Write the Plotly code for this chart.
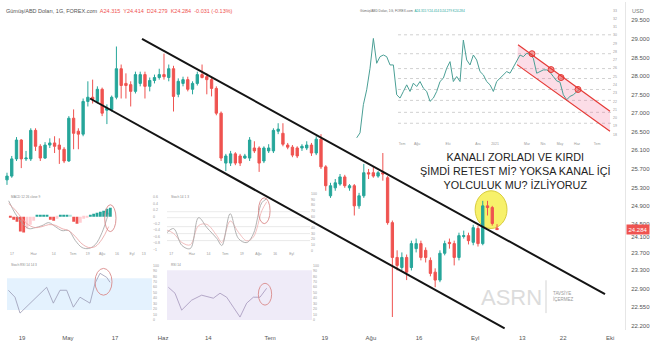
import plotly.graph_objects as go

# ---------------- main chart data (daily candles, bar index) ----------------
OPEN = [25.47,25.56,25.97,26.42,25.97,25.97,26.65,26.27,25.99,26.30,26.35,26.30,26.20,25.92,26.94,26.63,26.56,27.34,27.44,27.34,
        27.63,27.13,27.15,27.44,28.12,27.77,27.74,27.58,27.77,27.98,27.70,27.84,27.91,27.98,27.91,28.12,27.51,27.77,27.86,27.63,
        27.77,27.98,27.93,27.86,27.65,27.06,25.87,25.87,26.09,26.04,25.99,25.99,26.23,26.23,25.92,26.16,26.16,26.63,26.58,26.30,
        26.25,26.23,26.23,26.23,26.30,26.11,26.44,25.78,25.09,25.28,25.37,25.54,25.28,25.33,24.85,25.09,25.64,25.64,25.56,25.64,
        25.52,24.45,23.62,23.38,23.62,23.38,23.83,23.95,23.79,23.55,23.27,23.08,23.72,23.98,23.95,23.62,24.12,24.14,23.98,24.31,
        23.95,24.85,24.81,24.315]
HIGH = [25.64,26.04,26.49,26.44,26.16,26.70,26.70,26.32,26.37,26.46,26.51,26.46,26.25,26.99,27.15,26.70,27.41,27.82,27.86,27.70,
        27.67,27.27,27.48,28.65,28.22,28.01,27.82,28.05,28.05,28.05,27.91,27.98,28.12,28.48,28.22,28.19,27.89,27.93,27.93,27.82,
        28.05,28.22,28.01,27.93,27.70,27.10,26.09,26.16,26.13,26.09,26.09,26.49,26.39,26.27,26.27,26.32,26.70,26.82,26.82,26.35,
        26.30,26.27,26.32,26.39,26.35,26.51,26.56,25.82,25.40,25.49,25.61,25.59,25.37,25.37,25.16,25.85,25.73,25.80,25.68,26.11,
        25.56,24.50,23.79,23.74,23.69,24.02,24.07,24.02,23.86,23.62,23.36,23.79,24.02,24.07,24.02,24.21,24.26,24.21,24.40,24.38,
        24.97,24.97,24.85,24.414]
LOW = [25.35,25.52,25.92,25.75,25.92,25.92,26.16,25.92,25.97,26.23,26.11,25.85,25.87,25.90,26.20,26.20,26.51,27.22,27.29,27.29,
       26.99,26.80,27.10,27.39,27.41,27.41,27.22,27.53,27.70,27.41,27.58,27.77,27.86,27.86,27.82,27.10,27.44,27.70,27.58,27.51,
       27.72,27.89,27.51,27.46,27.01,25.92,25.68,25.80,25.82,25.80,25.97,25.92,26.11,25.66,25.87,26.11,26.11,26.56,26.27,26.20,
       26.01,25.99,26.16,26.18,26.04,26.06,25.73,25.21,25.04,25.21,25.33,25.28,25.21,24.62,24.78,25.04,25.49,25.52,25.52,25.45,
       24.40,22.20,23.31,23.31,23.08,23.31,23.74,23.55,23.50,23.17,22.91,23.03,23.67,23.83,23.43,23.55,24.07,23.93,23.91,23.88,
       23.91,24.62,24.38,24.279]
CLOSE = [25.56,25.97,26.42,25.97,25.99,26.65,26.27,25.99,26.30,26.35,26.27,26.20,25.92,26.94,26.58,26.56,27.34,27.44,27.39,27.63,
         27.06,27.18,27.44,28.12,27.72,27.72,27.58,27.98,27.98,27.70,27.84,27.91,27.98,27.93,28.12,27.46,27.82,27.86,27.63,27.77,
         27.98,27.91,27.86,27.65,27.06,25.99,26.04,26.09,25.87,25.87,26.04,26.42,26.16,25.87,26.23,26.23,26.65,26.68,26.32,26.25,
         26.06,26.04,26.27,26.30,26.11,26.44,25.78,25.33,25.33,25.40,25.54,25.33,25.33,24.85,25.09,25.64,25.61,25.56,25.64,25.61,
         24.45,23.62,23.43,23.62,23.27,23.95,23.95,23.62,23.62,23.24,23.08,23.72,23.95,23.95,23.62,24.14,24.14,24.02,24.33,23.95,
         24.85,24.81,24.43,24.284]
BAR_INDEX = list(range(len(CLOSE)))
LAST_PRICE = 24.284

X_TICK_POS = [3.15, 12.8, 22.7, 32.8, 42.3, 55.3, 66.8, 76.5, 86.6, 98.4, 108.3, 116.9, 126.8]
X_TICK_TEXT = ["19", "May", "17", "Haz", "14", "Tem", "19", "Ağu", "16", "Eyl", "13", "22", "Eki"]
Y_TICK_POS = [29.284, 28.834, 28.384, 27.957, 27.507, 27.057, 26.606, 26.180, 25.729, 25.279,
              24.852, 24.426, 24.118, 23.739, 23.312, 22.862, 22.435, 21.985]
Y_TICK_TEXT = ["29.500", "29.000", "28.500", "28.000", "27.500", "27.000", "26.500", "26.100", "25.700", "25.300",
               "24.900", "24.500", "24.100", "23.700", "23.300", "22.900", "22.550", "22.200"]

# channel (trend lines) drawn on the main chart: [start, end] in bar index / price
CHANNEL_UPPER_X = [28.38, 125.7]
CHANNEL_UPPER_Y = [28.834, 22.743]
CHANNEL_LOWER_X = [17.45, 104.6]
CHANNEL_LOWER_Y = [27.41, 21.93]
HIGHLIGHT_X = [98.4, 105.1]
HIGHLIGHT_Y = [24.31, 25.21]

# ---------------- top-right inset (longer history) ----------------
INSET_PRICE = [17.60, 18.20, 21.60, 23.40, 26.00, 29.60, 26.60, 27.40, 27.60, 27.40,
               26.40, 26.40, 22.80, 22.40, 23.20, 24.00, 23.20, 24.20, 23.80, 24.40,
               23.60, 23.20, 22.00, 22.40, 23.20, 24.40, 24.80, 26.00, 26.80, 24.40,
               25.00, 24.40, 29.40, 27.00, 26.40, 27.60, 27.00, 25.60, 25.20, 24.40,
               24.00, 23.20, 24.40, 24.80, 25.20, 25.60, 25.40, 26.20, 27.00, 27.60,
               27.40, 27.80, 27.68, 27.20, 25.40, 25.60, 25.80, 25.80, 25.52, 25.00,
               24.48, 24.32, 22.80, 22.20, 22.60, 22.80, 23.20, 23.52]
INSET_LEVELS = [30.04, 27.76, 25.96, 24.76, 23.44, 22.12, 20.68, 19.36]
INSET_CH_UP_X = [48.4, 76.0]
INSET_CH_UP_Y = [28.84, 20.80]
INSET_CH_LO_X = [48.1, 76.0]
INSET_CH_LO_Y = [26.44, 18.40]
INSET_TOUCH_X = [52.6, 58.3, 61.3, 66.4]
INSET_TOUCH_Y = [27.76, 25.84, 24.88, 23.44]
INSET_XTICK_POS = [13.6, 18.1, 27.4, 36.4, 41.5, 51.1, 55.9, 61.0, 66.1, 72.1]
INSET_XTICK_TEXT = ["Tem", "Ağu", "Eki", "Ara", "2021", "Mar", "Nis", "May", "Haz", "Tem"]

# ---------------- indicator panels ----------------
MACD_HIST = [-0.03, -0.09, -0.15, -0.45, -0.48, -0.36, -0.24, -0.12, 0.03, 0.03, 0.06, 0.06,
             -0.09, -0.12, -0.06, 0.03, 0.06, 0.06, 0.03, -0.15, -0.21, -0.18, -0.06, -0.03,
             0.06, 0.09, 0.12, 0.15, 0.18, 0.24, 0.27]
MACD_X = [-0.5, 1.5, 3.5, 5.5, 7.5, 9.5, 11.5, 13.5, 15.5, 17.5, 19.5, 21.5, 23.5, 25.5, 27.5, 29.5]
MACD_LINE = [0.48, 0.09, -0.18, -0.36, -0.33, -0.27, -0.18, -0.30, -0.42, -0.42, -0.72, -0.93, -0.96, -0.84, -0.48, 0.12]
MACD_SIGNAL = [0.40, 0.20, -0.05, -0.25, -0.33, -0.30, -0.24, -0.26, -0.36, -0.42, -0.60, -0.82, -0.93, -0.90, -0.68, -0.30]

STOCH_X = [0, 0.8, 1.8, 2.8, 3.8, 4.8, 6.0, 6.6, 7.6, 8.6, 9.6, 10.4, 11.4, 12.0]
STOCH_K = [31.6, 38.6, 8.8, 3.5, 57.9, 40.3, 21.0, 8.8, 64.9, 21.0, 14.0, 29.8, 84.2, 91.2]
STOCH_D = [36.0, 30.0, 14.0, 10.0, 44.0, 46.0, 26.0, 14.0, 52.0, 32.0, 17.0, 24.0, 70.0, 86.0]
STOCH_LEVELS = [68.4, 57.9, 42.1, 29.8, 17.5]

RSI_X = [0, 2, 3.5, 6.5, 8.5, 11.5, 13.5, 15.5, 17.5, 19.5, 21.5, 24.5, 26, 27.5, 29.5, 30.5]
RSI_VAL = [54.5, 41.8, 12.7, 30.9, 41.8, 60.0, 30.9, 54.5, 54.5, 23.6, 41.8, 30.9, 67.3, 85.5, 78.2, 69.1]
RSI_BAND = [18.2, 76.4]

OSC_X = [0, 1, 2, 3.5, 5, 6.75, 7.75, 8.75, 9.75, 10.75, 11.75, 12.75, 13.75, 14.75]
OSC_VAL = [60.0, 49.1, 18.2, 36.4, 45.5, 40.0, 49.1, 41.8, 23.6, 5.5, 30.9, 41.8, 41.8, 58.2]
OSC_BAND = [0, 90.9]

PW, PH = 625.0, 330.0
def px(x):
    return x / PW
def py(y):
    return 1 - y / PH

FONT = "Liberation Sans, Arial, sans-serif"
GREEN, RED = "#26a69a", "#ef5350"

fig = go.Figure()
fig.add_trace(go.Candlestick(
    x=BAR_INDEX, open=OPEN, high=HIGH, low=LOW, close=CLOSE,
    increasing=dict(line=dict(color=GREEN, width=1), fillcolor=GREEN),
    decreasing=dict(line=dict(color=RED, width=1), fillcolor=RED),
    whiskerwidth=0, hoverinfo="skip", xaxis="x", yaxis="y"))

# inset
fig.add_trace(go.Scatter(x=list(range(len(INSET_PRICE))), y=INSET_PRICE, mode="lines",
                         line=dict(color="#4a9f95", width=1), xaxis="x2", yaxis="y2", hoverinfo="skip"))
fig.add_trace(go.Scatter(x=INSET_TOUCH_X, y=INSET_TOUCH_Y, mode="markers",
                         marker=dict(size=6, color="rgba(239,83,80,0.55)", line=dict(color="#e53935", width=1)),
                         xaxis="x2", yaxis="y2", hoverinfo="skip"))

# MACD panel
hist_colors = []
prev = 0
for v in MACD_HIST:
    if v >= 0:
        hist_colors.append(GREEN if v >= prev else "#b2dfdb")
    else:
        hist_colors.append(RED if v <= prev else "#ffcdd2")
    prev = v
fig.add_trace(go.Bar(x=list(range(len(MACD_HIST))), y=MACD_HIST, marker=dict(color=hist_colors, line=dict(width=0)),
                     width=0.85, xaxis="x3", yaxis="y3", hoverinfo="skip"))
fig.add_trace(go.Scatter(x=MACD_X, y=MACD_LINE, mode="lines", line=dict(color="#a0a0a0", width=0.8, shape="spline"),
                         xaxis="x3", yaxis="y3", hoverinfo="skip"))
fig.add_trace(go.Scatter(x=MACD_X, y=MACD_SIGNAL, mode="lines", line=dict(color="#e8a0a0", width=0.8, shape="spline"),
                         xaxis="x3", yaxis="y3", hoverinfo="skip"))
# Stoch panel
fig.add_trace(go.Scatter(x=STOCH_X, y=STOCH_D, mode="lines", line=dict(color="#efb0b0", width=0.8, shape="spline"),
                         xaxis="x4", yaxis="y4", hoverinfo="skip"))
fig.add_trace(go.Scatter(x=STOCH_X, y=STOCH_K, mode="lines", line=dict(color="#a8a8a8", width=0.9, shape="spline"),
                         xaxis="x4", yaxis="y4", hoverinfo="skip"))
# RSI panel
fig.add_trace(go.Scatter(x=RSI_X, y=RSI_VAL, mode="lines", line=dict(color="#9a9ab5", width=0.8),
                         xaxis="x5", yaxis="y5", hoverinfo="skip"))
# oscillator panel
fig.add_trace(go.Scatter(x=OSC_X, y=OSC_VAL, mode="lines", line=dict(color="#a495bb", width=0.8),
                         xaxis="x6", yaxis="y6", hoverinfo="skip"))

shapes = []
# main channel
shapes.append(dict(type="line", xref="x", yref="y", x0=CHANNEL_UPPER_X[0], y0=CHANNEL_UPPER_Y[0],
                   x1=CHANNEL_UPPER_X[1], y1=CHANNEL_UPPER_Y[1], line=dict(color="#141414", width=2), layer="above"))
shapes.append(dict(type="line", xref="x", yref="y", x0=CHANNEL_LOWER_X[0], y0=CHANNEL_LOWER_Y[0],
                   x1=CHANNEL_LOWER_X[1], y1=CHANNEL_LOWER_Y[1], line=dict(color="#141414", width=2), layer="above"))
shapes.append(dict(type="circle", xref="x", yref="y", x0=HIGHLIGHT_X[0], x1=HIGHLIGHT_X[1],
                   y0=HIGHLIGHT_Y[0], y1=HIGHLIGHT_Y[1], fillcolor="rgba(246,238,80,0.85)",
                   line=dict(color="#d8cc3c", width=1), layer="below"))
# inset levels
for lv in INSET_LEVELS:
    shapes.append(dict(type="line", xref="x2", yref="y2", x0=12.4, x1=76.6, y0=lv, y1=lv,
                       line=dict(color="#bdbdbd", width=0.7, dash="dot"), layer="below"))
shapes.append(dict(type="path", xref="x2", yref="y2",
                   path=f"M {INSET_CH_UP_X[0]},{INSET_CH_UP_Y[0]} L {INSET_CH_UP_X[1]},{INSET_CH_UP_Y[1]} "
                        f"L {INSET_CH_LO_X[1]},{INSET_CH_LO_Y[1]} L {INSET_CH_LO_X[0]},{INSET_CH_LO_Y[0]} Z",
                   fillcolor="rgba(240,98,146,0.22)", line=dict(width=0), layer="below"))
for xs, ys in [(INSET_CH_UP_X, INSET_CH_UP_Y), (INSET_CH_LO_X, INSET_CH_LO_Y)]:
    shapes.append(dict(type="line", xref="x2", yref="y2", x0=xs[0], y0=ys[0], x1=xs[1], y1=ys[1],
                       line=dict(color="#e53935", width=1.2)))
# stoch levels
for lv in STOCH_LEVELS:
    shapes.append(dict(type="line", xref="x4", yref="y4", x0=0, x1=17.2, y0=lv, y1=lv,
                       line=dict(color="#dcdcdc", width=0.6), layer="below"))
# bands
shapes.append(dict(type="rect", xref="x5", yref="y5", x0=-0.4, x1=43.1, y0=RSI_BAND[0], y1=RSI_BAND[1],
                   fillcolor="rgba(33,150,243,0.12)", line=dict(width=0), layer="below"))
shapes.append(dict(type="rect", xref="x6", yref="y6", x0=-0.2, x1=21.55, y0=OSC_BAND[0], y1=OSC_BAND[1],
                   fillcolor="rgba(126,87,194,0.12)", line=dict(width=0), layer="below"))
# red ellipses on indicator panels
ELL = "#d98a8a"
shapes.append(dict(type="circle", xref="x3", yref="y3", x0=28.3, x1=31.7, y0=-0.45, y1=0.36, line=dict(color=ELL, width=0.9)))
shapes.append(dict(type="circle", xref="x4", yref="y4", x0=11.0, x1=12.4, y0=47.4, y1=93.0, line=dict(color=ELL, width=0.9)))
shapes.append(dict(type="circle", xref="x5", yref="y5", x0=26.0, x1=31.1, y0=45.5, y1=94.5, line=dict(color=ELL, width=0.9)))
shapes.append(dict(type="circle", xref="x6", yref="y6", x0=13.5, x1=15.5, y0=27.3, y1=67.3, line=dict(color=ELL, width=0.9)))
# watermark divider
shapes.append(dict(type="line", xref="paper", yref="paper", x0=px(546), x1=px(546), y0=py(280), y1=py(313),
                   line=dict(color="#c8c8c8", width=0.8)))

ann = []
ann.append(dict(xref="paper", yref="paper", x=px(4), y=py(9), xanchor="left", yanchor="middle", showarrow=False,
                text="Gümüş/ABD Doları, 1G, FOREX.com  <span style='color:#ef5350'>A24.315  Y24.414  D24.279  K24.284  -0.031 (-0.13%)</span>",
                font=dict(family=FONT, size=5.5, color="#555")))
ann.append(dict(xref="paper", yref="paper", x=px(515), y=py(170), xanchor="center", yanchor="middle", showarrow=False,
                text="KANALI ZORLADI VE KIRDI<br>ŞİMDİ RETEST Mİ? YOKSA KANAL İÇİ<br>YOLCULUK MU? İZLİYORUZ",
                font=dict(family=FONT, size=10.8, color="#222")))
ann.append(dict(xref="paper", yref="paper", x=px(511), y=py(297), xanchor="center", yanchor="middle", showarrow=False,
                text="ASRN", font=dict(family=FONT, size=22, color="#dcdcdc")))
ann.append(dict(xref="paper", yref="paper", x=px(551), y=py(296), xanchor="left", yanchor="middle", showarrow=False,
                text="TAVSİYE<br>İÇERMEZ", align="left", font=dict(family=FONT, size=4.5, color="#999")))
ann.append(dict(xref="paper", yref="paper", x=px(638), y=py(9), xanchor="center", yanchor="middle", showarrow=False,
                text="USD", font=dict(family=FONT, size=5.5, color="#777")))
ann.append(dict(xref="paper", yref="y", x=1.0, y=LAST_PRICE, xanchor="left", yanchor="middle", showarrow=False,
                xshift=1, text="24.284", bgcolor="#ef5350", borderpad=1.5,
                font=dict(family=FONT, size=6, color="white")))
ann.append(dict(xref="paper", yref="paper", x=px(358), y=py(9), xanchor="left", yanchor="middle", showarrow=False,
                text="Gümüş/ABD Doları, 1G, FOREX.com  <span style='color:#26a69a'>A24.315 Y24.414 D24.279 K24.284</span>",
                font=dict(family=FONT, size=3.2, color="#666")))
for txt, xx, yy in [("MACD 12 26 close 9", 9, 196), ("Stoch 14 1 3", 169, 196),
                    ("Stoch RSI 14 14 3", 9, 265), ("RSI 14", 169, 265)]:
    ann.append(dict(xref="paper", yref="paper", x=px(xx), y=py(yy), xanchor="left", yanchor="middle", showarrow=False,
                    text=txt, font=dict(family=FONT, size=3.2, color="#888")))

tiny = dict(family=FONT, size=3.5, color="#9a9a9a")
base_ax = dict(showgrid=False, zeroline=False, ticks="", showline=False)

layout = dict(
    width=654, height=351, margin=dict(l=0, r=29, t=0, b=21),
    paper_bgcolor="white", plot_bgcolor="white", showlegend=False,
    shapes=shapes, annotations=ann, bargap=0.1,
    xaxis=dict(**base_ax, domain=[0, 1], range=[-1.47, 129.9], anchor="y",
               tickvals=X_TICK_POS, ticktext=X_TICK_TEXT, tickfont=dict(family=FONT, size=6, color="#555"),
               ticklabelstandoff=3, rangeslider=dict(visible=False)),
    yaxis=dict(showgrid=False, zeroline=False, ticks="", domain=[0, 1], range=[21.89, 29.711], anchor="x", side="right",
               tickvals=Y_TICK_POS, ticktext=Y_TICK_TEXT, tickfont=dict(family=FONT, size=6, color="#555"),
               showline=True, linecolor="#e6e6e6", linewidth=1, ticklabelstandoff=4),
    xaxis2=dict(**base_ax, domain=[px(355), px(612)], range=[-0.51, 76.6], anchor="y2",
                tickvals=INSET_XTICK_POS, ticktext=INSET_XTICK_TEXT, tickfont=tiny),
    yaxis2=dict(**base_ax, domain=[py(139), py(5)], range=[17.32, 33.4], anchor="x2", side="right",
                dtick=1, tickfont=tiny),
    xaxis3=dict(**base_ax, domain=[px(7), px(152)], range=[-1, 42.5], anchor="y3",
                tickvals=[0.5, 7, 13, 18.8, 23.2, 27.5, 32, 36.5, 40],
                ticktext=["17", "Haz", "14", "Tem", "19", "Ağu", "16", "Eyl", "13"], tickfont=tiny),
    yaxis3=dict(**base_ax, domain=[py(250), py(193)], range=[-1.02, 0.69], anchor="x3", side="right",
                dtick=0.2, tickfont=tiny),
    xaxis4=dict(**base_ax, domain=[px(167), px(310)], range=[0, 17.2], anchor="y4",
                tickvals=[0.5, 3, 5, 7, 9, 11, 13, 15], ticktext=["17", "Haz", "14", "Tem", "19", "Ağu", "16", "Eyl"],
                tickfont=tiny),
    yaxis4=dict(**base_ax, domain=[py(250), py(193)], range=[0, 100], anchor="x4", side="right",
                dtick=10, tickfont=tiny),
    xaxis5=dict(**base_ax, domain=[px(7), px(152)], range=[-0.4, 43.1], anchor="y5", showticklabels=False),
    yaxis5=dict(**base_ax, domain=[py(320), py(265)], range=[0, 100], anchor="x5", side="right",
                dtick=10, tickfont=tiny),
    xaxis6=dict(**base_ax, domain=[px(167), px(312)], range=[-0.2, 21.55], anchor="y6", showticklabels=False),
    yaxis6=dict(**base_ax, domain=[py(320), py(265)], range=[0, 100], anchor="x6", side="right",
                dtick=10, tickfont=tiny),
)
fig.update_layout(**layout)
fig.write_html("out.html", config={"displayModeBar": False})
